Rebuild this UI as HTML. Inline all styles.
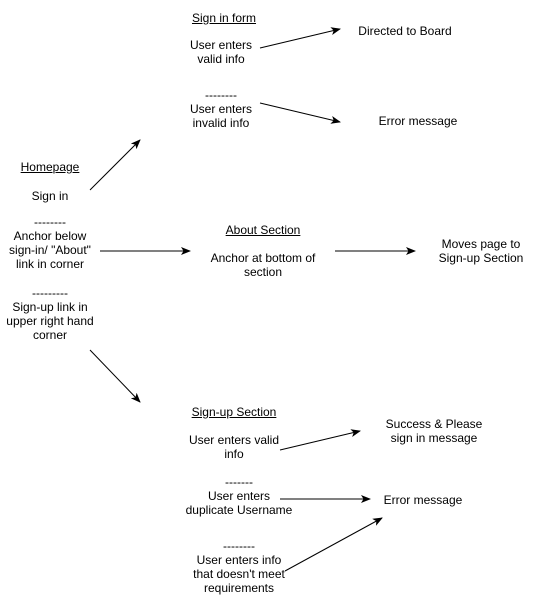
<!DOCTYPE html>
<html><head><meta charset="utf-8"><style>
body{margin:0;width:534px;height:601px;background:#fff;position:relative;overflow:hidden;font-family:"Liberation Sans",Arial,sans-serif;font-size:12px;color:#000}
.t{position:absolute;width:200px;text-align:center;line-height:14px;white-space:nowrap}
u{text-decoration:underline}
svg{position:absolute;left:0;top:0}
</style></head><body>
<svg width="534" height="601">
<defs><marker id="a" markerWidth="10" markerHeight="8" refX="9" refY="4" orient="auto" markerUnits="userSpaceOnUse"><path d="M0,0 L10,4 L0,8 L2.5,4 Z" fill="#000"/></marker></defs>
<g stroke="#000" stroke-width="1" marker-end="url(#a)">
<line x1="260" y1="48" x2="340" y2="29"/>
<line x1="260" y1="103" x2="340" y2="122"/>
<line x1="90" y1="190" x2="140" y2="140"/>
<line x1="100" y1="251" x2="190" y2="251"/>
<line x1="335" y1="251" x2="415" y2="251"/>
<line x1="90" y1="350" x2="140" y2="402"/>
<line x1="280" y1="450" x2="360" y2="431"/>
<line x1="280" y1="499" x2="370" y2="499"/>
<line x1="285" y1="571" x2="382" y2="518"/>
</g></svg>
<div class="t" style="left:124px;top:11px"><u>Sign in form</u></div>
<div class="t" style="left:121px;top:38px">User enters<br>valid info</div>
<div class="t" style="left:121px;top:88px">--------<br>User enters<br>invalid info</div>
<div class="t" style="left:305px;top:24px">Directed to Board</div>
<div class="t" style="left:318px;top:114px">Error message</div>
<div class="t" style="left:-50px;top:160px"><u>Homepage</u></div>
<div class="t" style="left:-50px;top:189px">Sign in</div>
<div class="t" style="left:-50px;top:215px">--------<br>Anchor below<br>sign-in/ "About"<br>link in corner</div>
<div class="t" style="left:-50px;top:286px">---------<br>Sign-up link in<br>upper right hand<br>corner</div>
<div class="t" style="left:163px;top:223px"><u>About Section</u></div>
<div class="t" style="left:163px;top:251px">Anchor at bottom of<br>section</div>
<div class="t" style="left:381px;top:237px">Moves page to<br>Sign-up Section</div>
<div class="t" style="left:134px;top:405px"><u>Sign-up Section</u></div>
<div class="t" style="left:134px;top:433px">User enters valid<br>info</div>
<div class="t" style="left:334px;top:417px">Success &amp; Please<br>sign in message</div>
<div class="t" style="left:139px;top:475px">-------<br>User enters<br>duplicate Username</div>
<div class="t" style="left:323px;top:493px">Error message</div>
<div class="t" style="left:139px;top:539px">--------<br>User enters info<br>that doesn't meet<br>requirements</div>
</body></html>
